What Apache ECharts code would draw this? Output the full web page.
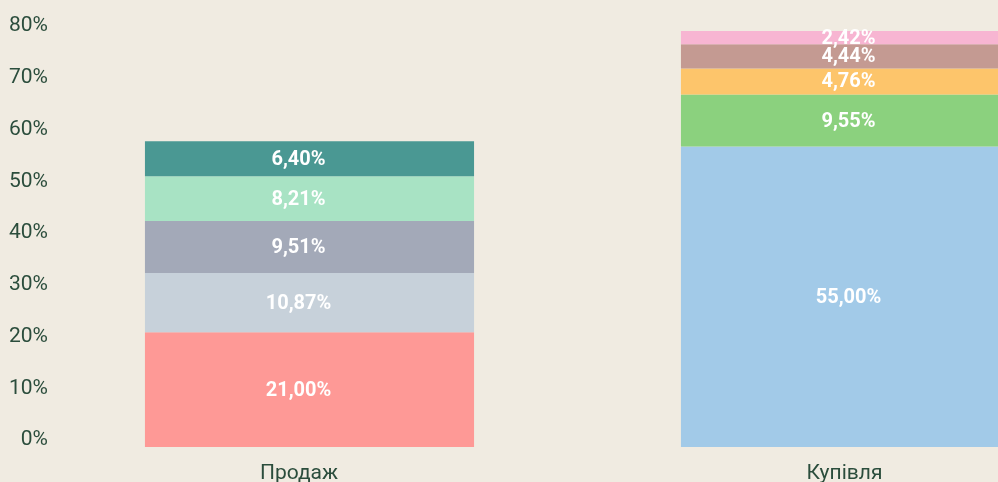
<!DOCTYPE html>
<html>
<head>
<meta charset="utf-8">
<script src="https://cdn.jsdelivr.net/npm/echarts@6/dist/echarts.min.js"></script>
<style>
  html, body { margin: 0; padding: 0; background: #f0ebe1; }
  #chart { width: 998px; height: 482px; }
</style>
</head>
<body>
<div id="chart"></div>
<script>
const categories = ['Продаж', 'Купівля']
const yTicks = [0, 10, 20, 30, 40, 50, 60, 70, 80]

// segments from bottom to top
const saleValues = [21.0, 10.87, 9.51, 8.21, 6.4]
const saleColors = ['#fe9996', '#c7d1da', '#a3a9b8', '#a8e3c4', '#4a9893']
const buyValues = [55.0, 9.55, 4.76, 4.44, 2.42]
const buyColors = ['#a2cae8', '#8bd17e', '#fdc56b', '#c49a92', '#f7b5d2']

const textColor = '#2b4d3c'

function fmt(v) {
  return v.toFixed(2).replace('.', ',') + '%'
}

// labels in the original sit a little off the bar centres
function makeSeries(values, colors, idx, dx) {
  return values.map((v, i) => {
    const data = [null, null]
    data[idx] = v
    return {
      type: 'bar',
      stack: 'total',
      xAxisIndex: 0,
      yAxisIndex: 0,
      barWidth: '61.4%',
      data,
      itemStyle: { color: colors[i] },
      label: {
        show: true,
        position: 'inside',
        offset: [dx, 1],
        color: '#fff',
        fontFamily: 'Roboto',
        fontWeight: 'bold',
        fontSize: 20,
        formatter: (p) => fmt(p.value)
      },
      emphasis: { disabled: true }
    }
  })
}

const chart = echarts.init(document.getElementById('chart'))
chart.setOption({
  backgroundColor: '#f0ebe1',
  animation: false,
  grid: [
    // plot runs past the right edge, the second bar is cut off
    { left: 41.5, width: 1072, top: 31, bottom: 35, outerBoundsMode: 'none' },
    { left: 56, right: 20, top: 26, bottom: 42, outerBoundsMode: 'none' }
  ],
  xAxis: [
    {
      gridIndex: 0,
      type: 'category',
      data: categories,
      axisLine: { show: false },
      axisTick: { show: false },
      axisLabel: {
        color: textColor,
        fontFamily: 'Roboto',
        fontSize: 21,
        margin: 16,
        formatter: (v, i) => (i === 0 ? '{a|' + v + '}' : '{b|' + v + '}'),
        rich: {
          a: { fontFamily: 'Roboto', fontSize: 21, color: textColor, padding: [0, 21, 0, 0] },
          b: { fontFamily: 'Roboto', fontSize: 21, color: textColor, padding: [0, 2, 0, 0] }
        }
      }
    },
    { gridIndex: 1, type: 'value', show: false }
  ],
  yAxis: [
    {
      gridIndex: 0,
      type: 'value',
      min: 0,
      max: 'dataMax',
      show: false
    },
    {
      gridIndex: 1,
      type: 'value',
      min: 0,
      max: 80,
      interval: 10,
      axisLine: { show: false },
      axisTick: { show: false },
      splitLine: { show: false },
      axisLabel: {
        color: textColor,
        fontFamily: 'Roboto',
        fontSize: 21,
        margin: 8,
        formatter: (v) => (yTicks.includes(v) ? v + '%' : '')
      }
    }
  ],
  series: [
    ...makeSeries(saleValues, saleColors, 0, -11),
    ...makeSeries(buyValues, buyColors, 1, 3)
  ]
})
</script>
</body>
</html>
